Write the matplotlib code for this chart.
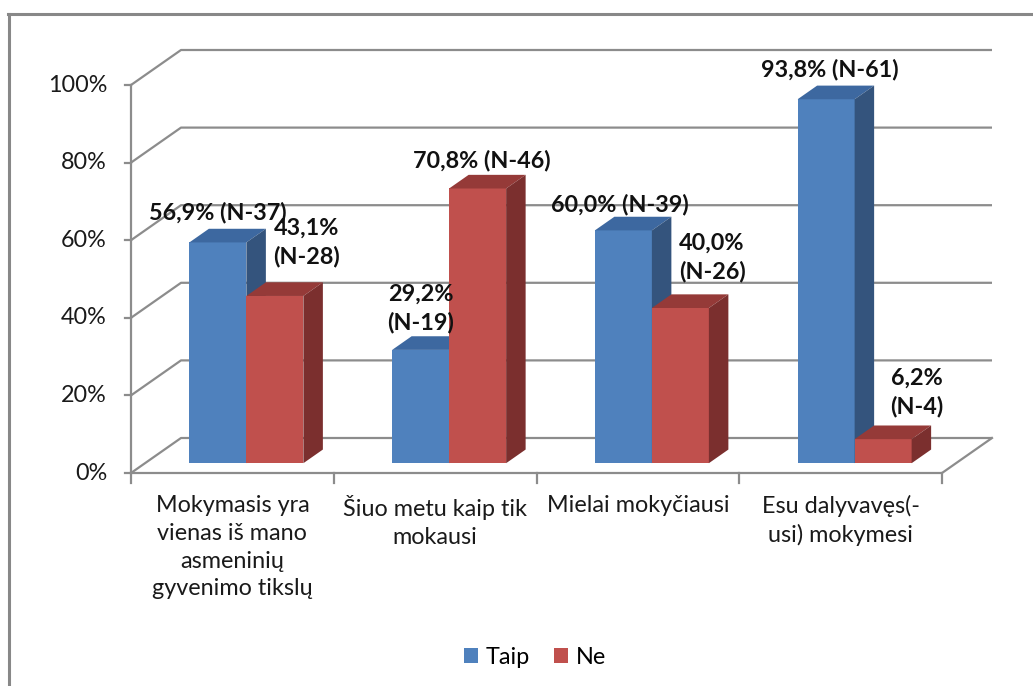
import matplotlib
matplotlib.use("Agg")
import matplotlib.pyplot as plt
from matplotlib.patches import Polygon
from matplotlib.lines import Line2D

categories = ["Mokymasis yra\nvienas iš mano\nasmeninių\ngyvenimo tikslų",
              "Šiuo metu kaip tik\nmokausi",
              "Mielai mokyčiausi",
              "Esu dalyvavęs(-\nusi) mokymesi"]
taip = [56.9, 29.2, 60.0, 93.8]
ne = [43.1, 70.8, 40.0, 6.2]
taip_labels = ["56,9% (N-37)", "29,2%\n(N-19)", "60,0% (N-39)", "93,8% (N-61)"]
ne_labels = ["43,1%\n(N-28)", "70,8% (N-46)", "40,0%\n(N-26)", "6,2%\n(N-4)"]
yticks = [0, 20, 40, 60, 80, 100]
ytick_labels = ["0%", "20%", "40%", "60%", "80%", "100%"]
series_names = ["Taip", "Ne"]

# label offsets (points) relative to front-top centre of each bar
taip_off = [(0, 21.6), (0, 29.8), (-2.4, 18.3), (2.8, 21.1)]
ne_off = [(23, 38.5), (3.2, 20.5), (22.8, 36.4), (24.5, 33.5)]

W, H = 1033, 686
fig = plt.figure(figsize=(W / 100, H / 100), dpi=100)
ax = fig.add_axes([0, 0, 1, 1])
PX_X = 202.75   # px per category
PX_Y = 3.88     # px per percent
X0, Y0 = 131, 473
ax.set_xlim(-X0 / PX_X, (W - X0) / PX_X)
ax.set_ylim((Y0 - H) / PX_Y, Y0 / PX_Y)
ax.axis("off")

FONT = "Lato"
FS = 16.8
DX = 50 / PX_X
DY = 35 / PX_Y
ncat = len(categories)
gcol = "#8c8c8c"
glw = 1.6

# gridlines: left wall diagonal + back wall
for t in yticks:
    ax.plot([0, DX, ncat + DX], [t, t + DY, t + DY], color=gcol, lw=glw, zorder=1,
            solid_capstyle="butt")
# floor front edge and right diagonal
ax.plot([0, ncat, ncat + DX], [0, 0, DY], color=gcol, lw=glw, zorder=1)
# vertical axis
ax.plot([0, 0], [0, 100], color=gcol, lw=glw, zorder=1)
tick_len_x = 6 / PX_X
tick_len_y = 10 / PX_Y
for t, lab in zip(yticks, ytick_labels):
    ax.plot([-tick_len_x, 0], [t, t], color=gcol, lw=glw, zorder=1)
    ax.text(-24 / PX_X, t, lab, ha="right", va="center", fontsize=FS,
            family=FONT, color="#1a1a1a")
for i in range(ncat + 1):
    ax.plot([i, i], [0, -tick_len_y], color=gcol, lw=glw, zorder=1)
for i, c in enumerate(categories):
    ax.text(i + 0.5, -22 / PX_Y, c, ha="center", va="top", fontsize=FS,
            family=FONT, color="#1a1a1a", linespacing=1.4)

# 3D-ish bars
F0 = 0.28       # bar plane offset
FD = 0.39       # bar depth
BW = 57 / PX_X  # bar width
ox, oy = F0 * DX, F0 * DY
ddx, ddy = FD * DX, FD * DY
cols = {"Taip": ("#4F81BD", "#3D68A0", "#34547D"),
        "Ne": ("#C0504D", "#953A38", "#7B2F2E")}

def draw_bar(x_left, v, name, z):
    front, top, side = cols[name]
    b = oy
    ax.add_patch(Polygon([(x_left, b), (x_left + BW, b), (x_left + BW, b + v), (x_left, b + v)],
                         closed=True, fc=front, ec="none", zorder=z))
    ax.add_patch(Polygon([(x_left, b + v), (x_left + BW, b + v),
                          (x_left + BW + ddx, b + v + ddy), (x_left + ddx, b + v + ddy)],
                         closed=True, fc=top, ec="none", zorder=z))
    ax.add_patch(Polygon([(x_left + BW, b), (x_left + BW + ddx, b + ddy),
                          (x_left + BW + ddx, b + v + ddy), (x_left + BW, b + v)],
                         closed=True, fc=side, ec="none", zorder=z))

for i in range(ncat):
    c = i + 0.5 + ox
    draw_bar(c - BW, taip[i], "Taip", 3 + 2 * i)
    draw_bar(c, ne[i], "Ne", 4 + 2 * i)
    for xc, v, lab, off in [(c - BW / 2, taip[i], taip_labels[i], taip_off[i]),
                            (c + BW / 2, ne[i], ne_labels[i], ne_off[i])]:
        ax.annotate(lab, (xc, v + oy), xytext=off, textcoords="offset points",
                    ha="center", va="center", fontsize=FS, fontweight="bold",
                    family=FONT, color="#111111", linespacing=1.4, zorder=20)

# legend
handles = [Polygon([[0, 0]], fc=cols[n][0], ec="none") for n in series_names]
fig.legend(handles, series_names, loc="center", bbox_to_anchor=(535 / W, 1 - 657 / H),
           ncol=2, frameon=False, prop={"family": FONT, "size": FS},
           handlelength=0.6, handleheight=0.6, handletextpad=0.35, columnspacing=1.0)

# outer frame (top and left visible)
fig.add_artist(Line2D([8 / W, 1], [1 - 14 / H, 1 - 14 / H], color="#888888", lw=2.2,
                      transform=fig.transFigure))
fig.add_artist(Line2D([9 / W, 9 / W], [1 - 14 / H, 0], color="#888888", lw=2.2,
                      transform=fig.transFigure))

fig.savefig("out.png", dpi=100)
